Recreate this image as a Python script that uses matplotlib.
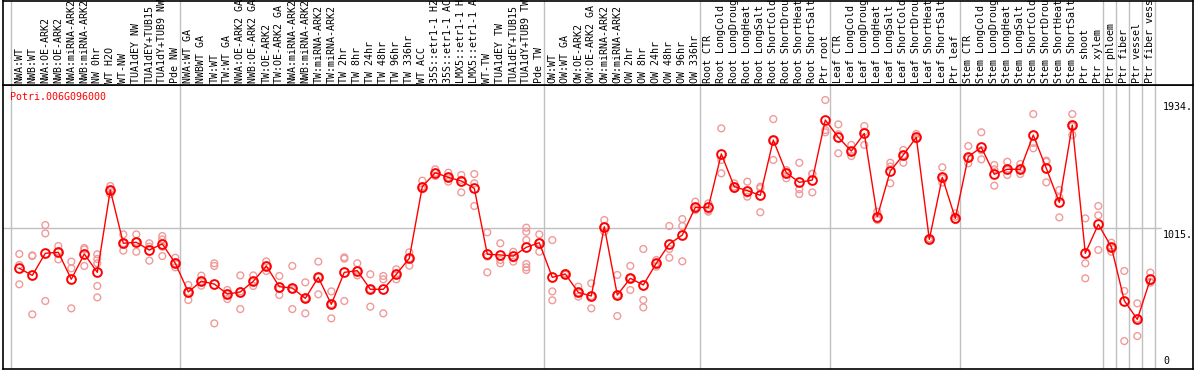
import matplotlib
matplotlib.use("Agg")
import matplotlib.pyplot as plt

# sample labels (truncated to 14 chars like the original)
labels = [
    "NWA:WT", "NWB:WT", "NWA:OE-ARK2", "NWB:OE-ARK2", "NWA:miRNA-ARK2", "NWB:miRNA-ARK2",
    "NW 0hr", "WT H2O", "WT-NW", "TUA1dEY NW", "TUA1dEY+TUB15", "TUA1dY+TUB9 NW", "Pde NW",
    "NWA:WT GA", "NWBWT GA", "TW:WT", "TW:WT GA", "NWA:OE-ARK2 GA", "NWB:OE-ARK2 GA",
    "TW:OE-ARK2", "TW:OE-ARK2 GA", "NWA:miRNA-ARK2", "NWB:miRNA-ARK2", "TW:miRNA-ARK2",
    "TW:miRNA-ARK2", "TW 2hr", "TW 8hr", "TW 24hr", "TW 48hr", "TW 96hr", "TW 336hr",
    "WT ACC", "35S::etr1-1 H2", "35S::etr1-1 AC", "LMX5::etr1-1 H", "LMX5::etr1-1 A",
    "WT-TW", "TUA1dEY TW", "TUA1dEY+TUB15", "TUA1dY+TUB9 TW", "Pde TW",
    "OW:WT", "OW:WT GA", "OW:OE-ARK2", "OW:OE-ARK2 GA", "OW:miRNA-ARK2", "OW:miRNA-ARK2",
    "OW 2hr", "OW 8hr", "OW 24hr", "OW 48hr", "OW 96hr", "OW 336hr",
    "Root CTR", "Root LongCold", "Root LongDroug", "Root LongHeat", "Root LongSalt",
    "Root ShortCold", "Root ShortDrou", "Root ShortHeat", "Root ShortSalt", "Ptr root",
    "Leaf CTR", "Leaf LongCold", "Leaf LongDroug", "Leaf LongHeat", "Leaf LongSalt",
    "Leaf ShortCold", "Leaf ShortDrou", "Leaf ShortHeat", "Leaf ShortSalt", "Ptr leaf",
    "Stem CTR", "Stem LongCold", "Stem LongDroug", "Stem LongHeat", "Stem LongSalt",
    "Stem ShortCold", "Stem ShortDrou", "Stem ShortHeat", "Stem ShortSalt", "Ptr shoot",
    "Ptr xylem", "Ptr phloem", "Ptr fiber", "Ptr vessel", "Ptr fiber vess",
]

# number of samples in each group (separated by grey lines)
group_sizes = [13, 28, 12, 10, 10, 11, 1, 1, 1, 1]

means = [
    724, 673, 832, 839, 645, 827, 695, 1287, 904, 911, 856, 899, 760,
    554, 631, 611, 539, 554, 631, 741, 592, 582, 508, 659, 465, 695, 707,
    573, 573, 681, 796, 1311, 1411, 1378, 1352, 1299, 825, 820, 812, 875, 908,
    659, 683, 551, 525, 1023, 532, 652, 604, 760, 899, 963, 1162,
    1162, 1546, 1311, 1282, 1249, 1646, 1411, 1342, 1359, 1790,
    1666, 1567, 1694, 1095, 1424, 1539, 1666, 932, 1378, 1083,
    1527, 1594, 1400, 1436, 1436, 1682, 1443, 1198, 1754, 832, 1040,
    879, 491, 357, 645,
]

replicates = [
    [827, 748, 609], [817, 812, 393], [1035, 975, 489], [884, 845, 788],
    [772, 724, 436], [870, 860, 741], [825, 791, 760, 597, 515], [1316, 1287, 1258],
    [968, 904, 851], [968, 915, 843], [904, 880, 779], [956, 932, 879, 812],
    [800, 760, 731],
    [604, 554, 496], [671, 631, 599], [760, 741, 328], [568, 539, 503],
    [673, 558, 431], [673, 631, 597], [774, 741, 705], [669, 575, 532],
    [741, 574, 431], [623, 508, 400], [772, 659, 537], [558, 465, 364],
    [803, 793, 489], [760, 707, 673], [681, 573, 448], [669, 645, 400],
    [717, 681, 645], [839, 796, 743], [1354, 1311, 1292], [1436, 1411, 1388],
    [1411, 1378, 1347], [1395, 1360, 1270], [1402, 1335, 1172], [983, 808, 695],
    [904, 784, 760], [843, 796, 772], [1016, 987, 927, 755, 731, 712], [968, 908, 843],
    [927, 558, 494], [688, 683, 678], [592, 551, 520], [616, 525, 436],
    [1071, 1023, 987], [676, 532, 381], [741, 652, 568], [863, 496, 443],
    [784, 760, 736], [1028, 863, 800], [1078, 1028, 774], [1203, 1162, 1143],
    [1191, 1143, 1131], [1730, 1503, 1407], [1335, 1311, 1294], [1347, 1263, 1239],
    [1311, 1300, 1127], [1797, 1646, 1503], [1430, 1411, 1371], [1483, 1292, 1258],
    [1405, 1402, 1270], [1934, 1718, 1702],
    [1759, 1688, 1551], [1611, 1567, 1531], [1747, 1706, 1611], [1131, 1083, 1071],
    [1483, 1455, 1335], [1575, 1539, 1483], [1690, 1659, 1652], [940, 932, 925],
    [1450, 1371, 1340], [1119, 1095, 1071],
    [1603, 1515, 1479], [1702, 1573, 1507], [1467, 1436, 1318], [1490, 1431, 1395],
    [1474, 1436, 1402], [1833, 1626, 1587], [1498, 1490, 1342], [1287, 1234, 1090],
    [1833, 1746, 1682], [1083, 760, 652], [1172, 1105, 856],
    [908, 875, 843], [705, 561, 201], [472, 362, 237], [693, 628, 621],
]

gene = "Potri.006G096000"
ytick_vals = [1934, 1015, 0]
ytick_text = ["1934.", "1015.", "0"]

FONT = "DejaVu Sans Mono"
FS = 7.2
GREY = "#c0c0c0"
PINK = "#f09a9a"

W, H = 1194, 370
fig = plt.figure(figsize=(W / 100, H / 100), dpi=100)

left_px, right_px = 2.7, 1193.0
split_px, bottom_px = 85.0, 369.0
ax = fig.add_axes([left_px / W, (H - bottom_px) / H,
                   (right_px - left_px) / W, (bottom_px - split_px) / H])
ax_top = fig.add_axes([left_px / W, (H - split_px) / H,
                       (right_px - left_px) / W, (split_px - 0.5) / H], sharex=ax)

step = 13.0
x0 = -(19.3 - left_px) / step
x1 = x0 + (right_px - left_px) / step
ax.set_xlim(x0, x1)
ax.set_ylim(0, 2042)
ax_top.set_ylim(0, 1)

for a in (ax, ax_top):
    a.set_xticks([])
    a.set_yticks([])
    for s in a.spines.values():
        s.set_color("black")
        s.set_linewidth(1.2)

# group separators
bounds = [-1]
for g in group_sizes:
    bounds.append(bounds[-1] + g)
for b in bounds:
    ax.axvline(b + 0.36, color=GREY, lw=1, zorder=0)
    ax_top.axvline(b + 0.36, color=GREY, lw=1, zorder=0)

ax.hlines(ytick_vals[1], x0, bounds[-1] + 0.8, color=GREY, lw=1, zorder=0)

xs = list(range(len(means)))
for i, reps in enumerate(replicates):
    ax.scatter([i] * len(reps), reps, s=24, facecolors="none",
               edgecolors=PINK, linewidths=1.0, zorder=2)
ax.plot(xs, means, color="red", lw=1.0, marker="o", ms=6.3,
        mfc="none", mec="red", mew=1.4, zorder=3)

for i, lab in enumerate(labels):
    ax_top.text(i, 0.025, lab, rotation=90, ha="center", va="bottom",
                fontsize=FS, family=FONT, color="black")

# gene name in the top left corner of the plot
ax.annotate(gene, (0, 1), xycoords="axes fraction", xytext=(5, -5),
            textcoords="offset points", ha="left", va="top",
            color="red", fontsize=FS, family=FONT)

tx = x0 + (1163 - left_px) / step
for v, t in zip(ytick_vals, ytick_text):
    if v > 0:
        ax.annotate(t, (tx, v), xytext=(0, -1.5), textcoords="offset points",
                    ha="left", va="top", fontsize=FS, family=FONT)
    else:
        ax.annotate(t, (tx, v), xytext=(0, 2.5), textcoords="offset points",
                    ha="left", va="bottom", fontsize=FS, family=FONT)

fig.savefig("out.png", dpi=100)
